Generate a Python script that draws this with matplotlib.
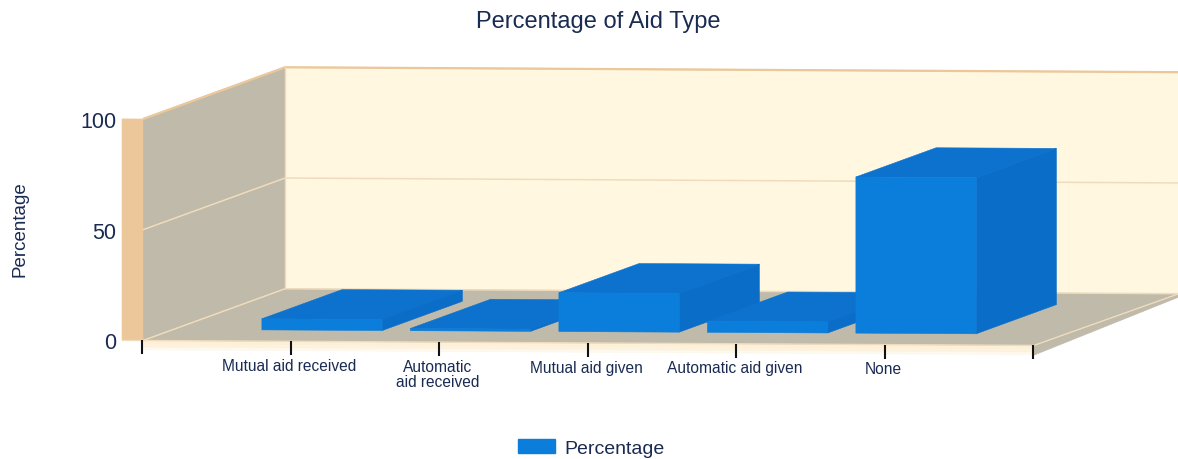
import matplotlib
matplotlib.use("Agg")
import matplotlib.pyplot as plt
from matplotlib.patches import Patch

categories = ["Mutual aid received", "Automatic\naid received", "Mutual aid given",
              "Automatic aid given", "None"]
values = [5, 1, 17.5, 5, 70.5]
title = "Percentage of Aid Type"
ylabel = "Percentage"
yticks = [0, 50, 100]

W, H = 1178, 460
X0_PX, STEP_PX = 143, 148.5
Y0_PX, UNIT_PX = 341.5, 2.215
DEPTH_X = 142 / STEP_PX
DEPTH_Y = 52.5 / UNIT_PX
TILT = 0.0055 * STEP_PX / UNIT_PX

BAR_W = 0.81
D0, D1 = 0.215, 0.78

WALL = "#FFF7E0"
SIDE = "#BFBAAA"
TAN = "#EBC79A"
TANL = "#F0DCBC"
FRONT = "#0B7DDA"
RSIDE = "#0A6DC8"
TOP = "#0C72CE"
TEXT = "#1A2B52"
FONT = "Liberation Sans"


def proj(x, v, d=0.0):
    X = x + d * DEPTH_X
    return X, v + d * DEPTH_Y - TILT * X


def poly(ax, pts, color, z=1, **kw):
    xs, ys = zip(*[proj(*p) for p in pts])
    ax.fill(xs, ys, color=color, lw=0.4, zorder=z, clip_on=False, **kw)


def seg(ax, pts, color, lw, z=2):
    xs, ys = zip(*[proj(*p) for p in pts])
    ax.plot(xs, ys, color=color, lw=lw, zorder=z, clip_on=False, solid_capstyle="butt")


fig = plt.figure(figsize=(W / 100, H / 100), dpi=100)
fig.patch.set_facecolor("white")
ax = fig.add_axes([X0_PX / W, 1 - Y0_PX / H, 6 * STEP_PX / W, 100 * UNIT_PX / H])
ax.set_xlim(0, 6)
ax.set_ylim(0, 100)
ax.patch.set_visible(False)
for s in ax.spines.values():
    s.set_visible(False)

xend = 6.02
# base strip fading under the floor
for off, a in [(-1.5, 1.0), (-3, 0.7), (-4.2, 0.4)]:
    poly(ax, [(0, 0), (6, 0), (6, off), (0, off)], "#FDF0D8", z=0.5, alpha=a)
# floor side edge
poly(ax, [(6, 0), (6, -4.4), (xend, -1.5, 1), (xend, 0, 1)], SIDE, z=0.6)
# back wall, left wall, floor
poly(ax, [(0, 0, 1), (xend, 0, 1), (xend, 100, 1), (0, 100, 1)], WALL)
poly(ax, [(0, 0), (0, 0, 1), (0, 100, 1), (0, 100)], SIDE)
poly(ax, [(0, 0), (6, 0), (xend, 0, 1), (0, 0, 1)], SIDE)
# front column of the value axis
xc = -21 / STEP_PX
poly(ax, [(xc, 0), (0, 0), (0, 100), (xc, 100)], TAN, z=2)
# grid and wall edges
for v in yticks:
    seg(ax, [(0, v), (0, v, 1), (xend, v, 1)], TANL, 1.1)
seg(ax, [(0, 100), (0, 100, 1), (xend, 100, 1)], TAN, 1.6)
seg(ax, [(0, 0, 1), (0, 100, 1)], TANL, 1.0)
seg(ax, [(6, 0), (xend, 0, 1)], TANL, 1.0)
seg(ax, [(xc, 0), (6, 0)], TANL, 1.0)

# bars, back to front in draw order
for i, v in enumerate(values):
    c = i + 1
    l, r = c - BAR_W / 2, c + BAR_W / 2
    poly(ax, [(l, v, D0), (r, v, D0), (r, v, D1), (l, v, D1)], TOP, z=3 + i)
    poly(ax, [(r, 0, D0), (r, 0, D1), (r, v, D1), (r, v, D0)], RSIDE, z=3 + i)
    poly(ax, [(l, 0, D0), (r, 0, D0), (r, v, D0), (l, v, D0)], FRONT, z=3 + i)

# ticks and category labels
for t in range(7):
    seg(ax, [(t - 0.006, 0), (t - 0.006, -6.3)], "#111111", 1.5, z=10)
for i, name in enumerate(categories):
    X, Y = proj(i + 0.985, -7.5)
    ax.text(X, Y, name, ha="center", va="top", fontsize=11.2, color=TEXT,
            family=FONT, linespacing=1.0)

ax.set_xticks([])
ax.set_yticks(yticks)
ax.tick_params(axis="y", length=0, pad=19, labelsize=15.5, labelcolor=TEXT)
for lab in ax.get_yticklabels():
    lab.set_family(FONT)

fig.text(598 / W, 1 - 22 / H, title, ha="center", va="center", fontsize=17,
         color=TEXT, family=FONT)
fig.text(20 / W, 1 - 229 / H, ylabel, ha="center", va="center", rotation=90,
         fontsize=13.5, color=TEXT, family=FONT)

leg = fig.legend(handles=[Patch(color=FRONT, label=ylabel)], loc="center",
                 bbox_to_anchor=(591 / W, 1 - 449 / H), frameon=False,
                 prop={"family": FONT, "size": 14}, labelcolor=TEXT,
                 handlelength=1.95, handleheight=0.72, handletextpad=0.45)

fig.savefig("out.png", dpi=100)
